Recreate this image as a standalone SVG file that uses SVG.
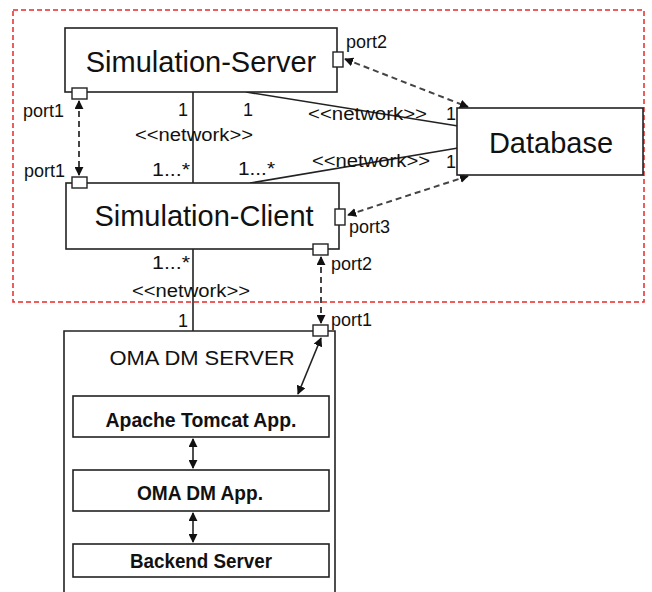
<svg xmlns="http://www.w3.org/2000/svg" width="652" height="592" viewBox="0 0 652 592">
<defs>
<marker id="ah" viewBox="0 0 10 10" refX="9" refY="5" markerWidth="9" markerHeight="9" markerUnits="userSpaceOnUse" orient="auto-start-reverse">
<path d="M0,0 L10,5 L0,10 z" fill="#111"/>
</marker>
<style>
text{font-family:"Liberation Sans",Arial,sans-serif;fill:#111}
.big{font-size:29px}
.lbl{font-size:18px}
.net{font-size:18px}
.sub{font-size:20px;font-weight:bold}
.box{fill:#fff;stroke:#222;stroke-width:1.6}
.port{fill:#fff;stroke:#222;stroke-width:1.4}
.ln{stroke:#222;stroke-width:1.6;fill:none}
.dash{stroke:#444;stroke-width:2;stroke-dasharray:6,4;fill:none}
.arr{stroke:#222;stroke-width:1.6;fill:none}
</style>
</defs>
<rect width="652" height="592" fill="#fff"/>
<rect x="13" y="10" width="631" height="292" fill="none" stroke="#e8282a" stroke-width="1.5" stroke-dasharray="5,3"/>

<g id="connectors">
<line class="ln" x1="193" y1="92" x2="193" y2="183"/>
<line class="ln" x1="246" y1="92" x2="458" y2="126"/>
<line class="ln" x1="250" y1="183" x2="458" y2="148"/>
<line class="ln" x1="193" y1="249" x2="193" y2="331"/>
<line class="dash" x1="79" y1="101" x2="79" y2="175" marker-start="url(#ah)" marker-end="url(#ah)"/>
<line class="dash" x1="345" y1="59" x2="468" y2="107" marker-start="url(#ah)" marker-end="url(#ah)"/>
<line class="dash" x1="468" y1="176" x2="348" y2="215" marker-start="url(#ah)" marker-end="url(#ah)"/>
<line class="dash" x1="321" y1="257" x2="321" y2="323" marker-start="url(#ah)" marker-end="url(#ah)"/>
<line class="arr" x1="321" y1="338" x2="298" y2="394" marker-start="url(#ah)" marker-end="url(#ah)"/>
<line class="arr" x1="193" y1="439" x2="193" y2="468" marker-start="url(#ah)" marker-end="url(#ah)"/>
<line class="arr" x1="193" y1="513" x2="193" y2="542" marker-start="url(#ah)" marker-end="url(#ah)"/>
<text class="lbl" x="188" y="116" text-anchor="end">1</text>
<text class="net" x="135" y="141" textLength="118" lengthAdjust="spacingAndGlyphs">&lt;&lt;network&gt;&gt;</text>
<text class="lbl" x="152" y="176" textLength="38" lengthAdjust="spacingAndGlyphs">1...*</text>
<text class="lbl" x="243" y="116">1</text>
<text class="net" x="308" y="120" textLength="119" lengthAdjust="spacingAndGlyphs">&lt;&lt;network&gt;&gt;</text>
<text class="lbl" x="446" y="120">1</text>
<text class="lbl" x="238" y="175" textLength="37" lengthAdjust="spacingAndGlyphs">1...*</text>
<text class="net" x="312" y="167" textLength="118" lengthAdjust="spacingAndGlyphs">&lt;&lt;network&gt;&gt;</text>
<text class="lbl" x="446" y="168">1</text>
<text class="lbl" x="152" y="269" textLength="38" lengthAdjust="spacingAndGlyphs">1...*</text>
<text class="net" x="132" y="297" textLength="118" lengthAdjust="spacingAndGlyphs">&lt;&lt;network&gt;&gt;</text>
<text class="lbl" x="188" y="327" text-anchor="end">1</text>
</g>

<g id="simulation-server">
<rect class="box" x="65" y="28" width="272" height="64"/>
<text class="big" x="201" y="72" text-anchor="middle">Simulation-Server</text>
<rect class="port" x="72" y="88" width="15" height="11"/>
<text class="lbl" x="23" y="117">port1</text>
<rect class="port" x="333" y="52" width="10" height="15"/>
<text class="lbl" x="346" y="48">port2</text>
</g>

<g id="simulation-client">
<rect class="box" x="66" y="183" width="273" height="66"/>
<text class="big" x="204" y="226" text-anchor="middle">Simulation-Client</text>
<rect class="port" x="72" y="177" width="15" height="11"/>
<text class="lbl" x="24" y="177">port1</text>
<rect class="port" x="335" y="209" width="10" height="16"/>
<text class="lbl" x="349" y="233">port3</text>
<rect class="port" x="313" y="244" width="15" height="11"/>
<text class="lbl" x="331" y="270">port2</text>
</g>

<g id="database">
<rect class="box" x="457" y="108" width="186" height="67"/>
<text class="big" x="551" y="153" text-anchor="middle">Database</text>
</g>

<g id="oma-dm-server">
<path class="ln" d="M64,600 V331 H335 V600"/>
<text x="202" y="365" text-anchor="middle" font-size="20" textLength="185" lengthAdjust="spacingAndGlyphs">OMA DM SERVER</text>
<rect class="port" x="313" y="325" width="15" height="11"/>
<text class="lbl" x="331" y="326">port1</text>
</g>

<g id="apache-tomcat">
<rect class="box" x="73" y="396" width="256" height="41"/>
<text class="sub" x="201" y="427" text-anchor="middle" textLength="191" lengthAdjust="spacingAndGlyphs">Apache Tomcat App.</text>
</g>

<g id="oma-dm-app">
<rect class="box" x="73" y="470" width="256" height="41"/>
<text class="sub" x="200" y="500" text-anchor="middle" textLength="126" lengthAdjust="spacingAndGlyphs">OMA DM App.</text>
</g>

<g id="backend-server">
<rect class="box" x="73" y="544" width="256" height="33"/>
<text class="sub" x="201" y="568" text-anchor="middle" textLength="142" lengthAdjust="spacingAndGlyphs">Backend Server</text>
</g>
</svg>
